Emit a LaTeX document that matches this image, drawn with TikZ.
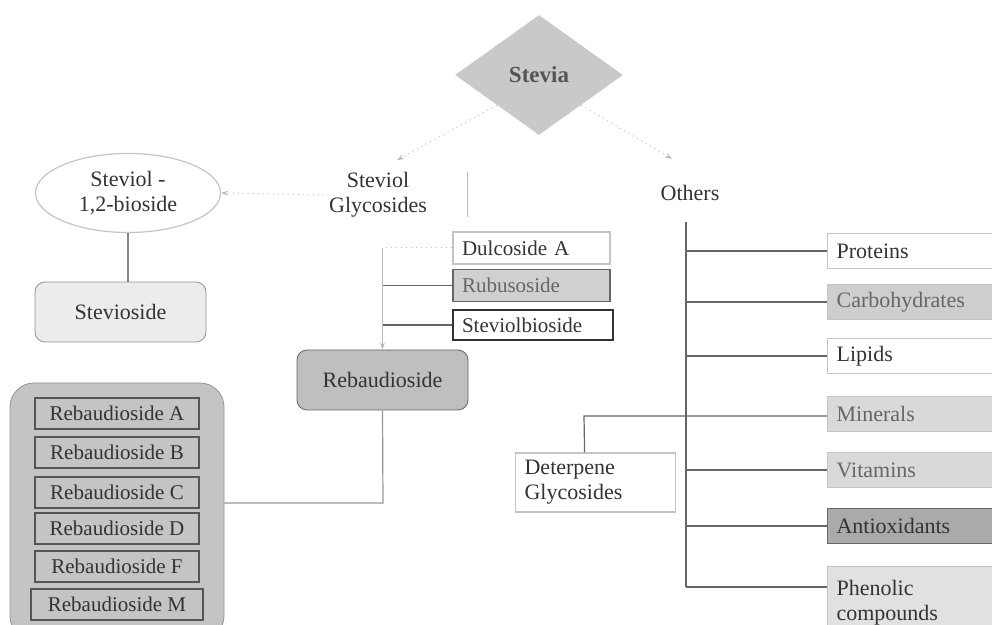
\documentclass[tikz,border=0pt]{standalone}
\usepackage{fontspec}
\setmainfont{Liberation Serif}
\usetikzlibrary{shapes.geometric,arrows.meta}

\definecolor{inkgray}{HTML}{333333}
\definecolor{linkgray}{HTML}{666666}
\definecolor{faintgray}{HTML}{BBBBBB}
\definecolor{edgegray}{HTML}{C4C4C4}
\definecolor{darkedge}{HTML}{555555}
\definecolor{diamondgray}{HTML}{C9C9C9}
\definecolor{paleface}{HTML}{ECECEC}
\definecolor{midface}{HTML}{BFBFBF}
\definecolor{groupface}{HTML}{C4C4C4}
\definecolor{lightface}{HTML}{D9D9D9}
\definecolor{rubusface}{HTML}{D0D0D0}
\definecolor{darkface}{HTML}{AAAAAA}

\tikzset{
    faint/.style={draw=faintgray, line width=0.5pt},
    link/.style={draw=linkgray, line width=0.6pt},
    pointer/.style={faint, dotted, -{Stealth[length=3.5pt,width=2.5pt]}},
    itembox/.style={draw=edgegray, fill=white, line width=0.6pt, minimum height=16pt,
        inner xsep=4.5pt, inner ysep=0pt, text width=69.5pt, align=left,
        font=\fontsize{10.5}{12}\selectfont},
    sidebox/.style={draw=edgegray, fill=white, line width=0.6pt, anchor=west,
        minimum height=17.5pt, inner xsep=4.5pt, inner ysep=0pt, text width=91pt,
        align=left},
    rebitem/.style={draw=darkedge, fill=groupface, line width=0.8pt, minimum width=82pt,
        minimum height=15.5pt, inner sep=0pt, font=\fontsize{10.5}{12}\selectfont}
}

\begin{document}
\begin{tikzpicture}[x=0.5pt,y=-0.5pt,
    every node/.style={font=\fontsize{11}{12.5}\selectfont, text=inkgray, inner sep=0pt}]
    \useasboundingbox (0,0) rectangle (992,625);
    \clip (0,0) rectangle (992,625);

    % top of the tree
    \node[diamond, fill=diamondgray, minimum width=84pt, minimum height=60pt,
        font=\fontsize{11.5}{13}\selectfont\bfseries, text=darkedge] (stevia) at (539,75) {Stevia};
    \node[align=center] (sg) at (378,195) {Steviol\\Glycosides};
    \node (others) at (690,193) {Others};
    \draw[pointer] (stevia.south west) -- ([xshift=9.5pt,yshift=6pt]sg.north);
    \draw[pointer] (stevia.south east) -- ([xshift=-9pt,yshift=13pt]others.north);
    \draw[faint] (467,172) -- (467,217);

    % steviol branch
    \node[ellipse, draw=edgegray, line width=0.6pt, minimum width=92.5pt, minimum height=39.5pt,
        align=center] (bioside) at (128,193) {Steviol -\\1,2-bioside};
    \node[draw=linkgray!70, fill=paleface, rounded corners=5pt, minimum width=85.5pt,
        minimum height=30pt] (stevioside) at (120.5,312) {Stevioside};
    \draw[pointer] (sg.west) -- (bioside.east);
    \draw[link, draw=linkgray!80] (bioside.south) -- (bioside.south |- stevioside.north);

    % glycoside list
    \node[itembox] (dulco) at (531.5,248) {Dulcoside A};
    \node[itembox, fill=rubusface, draw=linkgray, text=linkgray] (rubus) at (531.5,285.5) {Rubusoside};
    \node[itembox, draw=inkgray, text width=71pt, minimum height=15pt] (sbioside) at (533,325) {Steviolbioside};
    \node[draw=linkgray, fill=midface, rounded corners=5pt, minimum width=85.5pt,
        minimum height=30pt] (rebaud) at (382.5,380) {Rebaudioside};
    \draw[faint, dotted] (dulco.west) -- (dulco.west -| rebaud.north);
    \draw[link] (rubus.west) -- (rubus.west -| rebaud.north);
    \draw[link] (sbioside.west) -- (sbioside.west -| rebaud.north);
    \draw[faint, -{Stealth[length=3.5pt,width=2.5pt]}] (dulco.west -| rebaud.north) -- (rebaud.north);

    % rebaudioside group
    \node[draw=linkgray!70, fill=groupface, rounded corners=12pt, minimum width=107pt,
        minimum height=128.5pt] (rebgroup) at (117,511.5) {};
    \foreach \n/\yy/\w in {A/413.5/82, B/452.5/82, C/492.5/82, D/528.5/82, F/566.5/82, M/604.5/86}
    {
        \node[rebitem, minimum width=\w pt] (reb\n) at (117,\yy) {Rebaudioside \n};
    }
    \coordinate (rbend) at (383,503);
    \draw[link, draw=faintgray!80!black] (rebaud.south) -- (rbend) -- (rbend -| rebgroup.east);

    % other constituents
    \coordinate (otop) at (686,222);
    \coordinate (obot) at (686,587);
    \node[sidebox] (proteins) at (827,251) {Proteins};
    \node[sidebox, fill=lightface!95!black, text=linkgray] (carbs) at (827,302) {Carbohydrates};
    \node[sidebox] (lipids) at (827,356) {Lipids};
    \node[sidebox, fill=lightface, text=linkgray] (minerals) at (827,414) {Minerals};
    \node[sidebox, fill=lightface, text=linkgray] (vitamins) at (827,470) {Vitamins};
    \node[sidebox, fill=darkface, draw=linkgray] (antiox) at (827,526) {Antioxidants};
    \node[sidebox, fill=lightface!80!white, minimum height=36.5pt] (phenolic) at (827,603) {Phenolic\\compounds};
    \node[draw=edgegray, line width=0.6pt, anchor=west, minimum height=29.5pt, inner xsep=4.5pt,
        text width=71pt, align=left] (deterp) at (515,482.5) {Deterpene\\Glycosides};
    \draw[link] (otop) -- (obot);
    \foreach \part in {proteins, carbs, lipids, vitamins, antiox}
    {
        \draw[link] (otop |- \part.west) -- (\part.west);
    }
    \draw[link] (obot) -- (obot -| phenolic.west);
    \coordinate (dbend) at (584,416);
    \draw[link] ([xshift=-5.5pt]deterp.north) -- (dbend) -- (dbend -| minerals.west);
\end{tikzpicture}
\end{document}
